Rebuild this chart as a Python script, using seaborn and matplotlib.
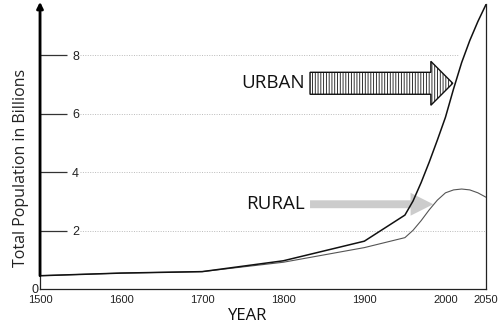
import numpy as np
import pandas as pd
import matplotlib
matplotlib.use("Agg")
import matplotlib.pyplot as plt
import seaborn as sns
from matplotlib.patches import FancyArrow

# ---- data ----
years = [1500, 1600, 1700, 1800, 1900, 1950, 1960, 1970, 1980, 1990,
         2000, 2010, 2020, 2030, 2040, 2050]
urban = [0.47, 0.56, 0.61, 0.98, 1.65, 2.54, 3.02, 3.65, 4.35, 5.10,
         5.88, 6.85, 7.75, 8.50, 9.15, 9.73]
rural = [0.47, 0.56, 0.61, 0.93, 1.43, 1.77, 2.02, 2.35, 2.72, 3.05,
         3.30, 3.40, 3.43, 3.40, 3.30, 3.15]
xtick_labels = [1500, 1600, 1700, 1800, 1900, 2000, 2050]
ytick_labels = [2, 4, 6, 8]
labels = ["URBAN", "RURAL"]
title_y = "Total Population in Billions"
title_x = "YEAR"

df = pd.DataFrame({"year": years * 2,
                   "pop": urban + rural,
                   "series": ["urban"] * len(years) + ["rural"] * len(years)})

sns.set_theme(style="white")
plt.rcParams["font.family"] = ["Liberation Sans", "DejaVu Sans"]
plt.rcParams["hatch.linewidth"] = 0.6
plt.rcParams["hatch.color"] = "#222222"

fig = plt.figure(figsize=(5, 3.26), dpi=100)
ax = fig.add_axes([0.08, 0.112, 0.892, 0.876])

ax.set_xlim(1500, 2050)
ax.set_ylim(0, 9.75)

# dotted grid lines, stopping just before the urban curve
for lv in ytick_labels:
    if lv == 2:
        xend = 2050
    else:
        xend = np.interp(lv, urban, years) - 8
    ax.plot([1549, xend], [lv, lv], ls=(0, (1, 1.5)), color="#bbbbbb",
            lw=0.7, zorder=1)

sns.lineplot(data=df[df.series == "rural"], x="year", y="pop", ax=ax,
             color="#555555", lw=0.8, zorder=4, legend=False)
sns.lineplot(data=df[df.series == "urban"], x="year", y="pop", ax=ax,
             color="#111111", lw=1.1, zorder=5, legend=False)

# arrows
ax.add_patch(FancyArrow(1833, 7.04, 2009 - 1833, 0, width=0.75,
                        head_width=1.5, head_length=27,
                        length_includes_head=True, facecolor="white",
                        edgecolor="#111111", lw=1.0, hatch="||||||",
                        zorder=3))
ax.add_patch(FancyArrow(1833, 2.91, 1985 - 1833, 0, width=0.27,
                        head_width=0.78, head_length=28,
                        length_includes_head=True, facecolor="#cccccc",
                        edgecolor="none", zorder=3))
ax.text(1827, 7.04, labels[0], ha="right", va="center", fontsize=13.5,
        family=["Open Sans", "DejaVu Sans"], color="#111111")
ax.text(1827, 2.91, labels[1], ha="right", va="center", fontsize=13.5,
        family=["Open Sans", "DejaVu Sans"], color="#111111")

# spines
ax.spines["top"].set_visible(False)
for s in ["left", "right", "bottom"]:
    ax.spines[s].set_visible(True)
    ax.spines[s].set_color("#222222")
    ax.spines[s].set_linewidth(0.9)

# thick arrow on the y axis
ax.annotate("", xy=(1500, 9.82), xytext=(1500, 0.47),
            arrowprops=dict(arrowstyle="-|>", lw=2.0, color="black",
                            mutation_scale=9, shrinkA=0, shrinkB=0),
            annotation_clip=False, zorder=6)

# ticks
ax.set_xticks(xtick_labels)
ax.set_xticklabels([str(t) for t in xtick_labels])
ax.tick_params(axis="x", length=0, pad=3.8, labelsize=8, labelcolor="#222222")
ax.set_yticks(ytick_labels)
ax.set_yticklabels([str(t) for t in ytick_labels])
ax.tick_params(axis="y", direction="in", length=19.5, width=0.9,
               color="#333333", pad=-28, labelsize=9, labelcolor="#222222",
               left=True)
ax.text(1498, -0.02, "0", transform=ax.transData, ha="right", va="center",
        fontsize=9, color="#222222")
ax.set_xlabel("")
ax.set_ylabel("")

fig.text(21 / 500, 1 - 168 / 326, title_y, rotation=90, ha="center",
         va="center", fontsize=11.5, family=["Open Sans", "DejaVu Sans"],
         color="#222222")
fig.text(248 / 500, 1 - 316 / 326, title_x, ha="center", va="center",
         fontsize=12, family=["Open Sans", "DejaVu Sans"], color="#111111")

fig.savefig("out.png", dpi=100)
